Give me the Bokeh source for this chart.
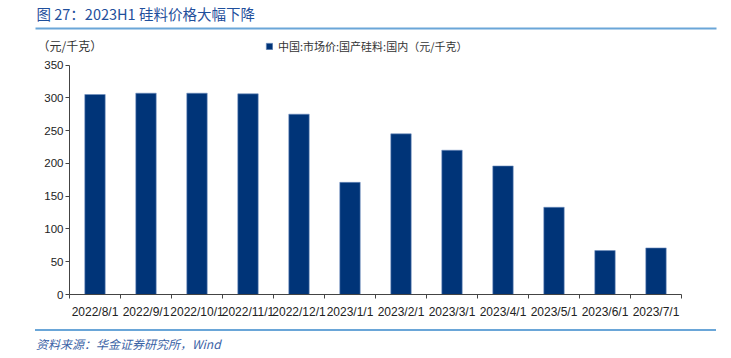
from bokeh.plotting import figure
from bokeh.models import (ColumnDataSource, FixedTicker, Label, BoxAnnotation,
                          Legend, LegendItem, Range1d, Div)
from bokeh.layouts import column
from bokeh.embed import file_html
from bokeh.resources import INLINE

categories = ["2022/8/1", "2022/9/1", "2022/10/1", "2022/11/1", "2022/12/1",
              "2023/1/1", "2023/2/1", "2023/3/1", "2023/4/1", "2023/5/1",
              "2023/6/1", "2023/7/1"]
values = [305, 307, 307, 306, 275, 171, 245, 220, 196, 133, 67, 71]
y_ticks = [0, 50, 100, 150, 200, 250, 300, 350]
series_name = "中国:市场价:国产硅料:国内（元/千克）"
title_text = "图 27：2023H1 硅料价格大幅下降"
unit_text = "（元/千克）"
source_text = "资料来源：华金证券研究所，Wind"

n = len(categories)
centers = [i + 0.5 for i in range(n)]
bounds = [float(i) for i in range(n + 1)]

# layout (page pixels)
FL, FW, FT, FBF = 30, 693, 0, 322         # frame left, width, top, bottom
AX0, AX1 = 69, 681                        # x position of category 0 and n
Y0, Y350 = 294, 64.5                      # y position of value 0 and 350
BORDER_B = 30
ppx = (AX1 - AX0) / n
ppy = (Y0 - Y350) / 350.0
x_start = -(AX0 - FL) / ppx
x_end = x_start + FW / ppx
y_start = -(FBF - Y0) / ppy
y_end = (Y0 - FT) / ppy

p = figure(frame_width=FW, frame_height=FBF - FT, output_backend="svg",
           toolbar_location=None,
           x_range=Range1d(x_start, x_end), y_range=Range1d(y_start, y_end),
           min_border_left=FL, min_border_right=0, min_border_top=FT,
           min_border_bottom=BORDER_B)
p.outline_line_color = None
p.grid.grid_line_color = None

src = ColumnDataSource(dict(x=centers, top=values, cat=categories))
r = p.vbar(x="x", top="top", width=0.4, source=src, fill_color="#003478",
           line_color="#6f8fbf", line_width=0.6)

xa = p.xaxis[0]
xa.fixed_location = 0
xa.bounds = (0, n)
xa.ticker = FixedTicker(ticks=centers, minor_ticks=bounds)
xa.major_label_overrides = {c: lab for c, lab in zip(centers, categories)}
xa.major_tick_line_color = None
xa.minor_tick_out = 4
xa.minor_tick_in = 0
xa.minor_tick_line_color = "#444444"
xa.axis_line_color = "#444444"
xa.axis_line_width = 1.2
xa.major_label_text_font = "Liberation Sans"
xa.major_label_text_font_size = "12px"
xa.major_label_text_color = "#222222"
xa.major_label_standoff = 4

ya = p.yaxis[0]
ya.fixed_location = 0
ya.bounds = (0, 350)
ya.ticker = FixedTicker(ticks=y_ticks)
ya.minor_tick_line_color = None
ya.major_tick_out = 4
ya.major_tick_in = 0
ya.major_tick_line_color = "#444444"
ya.axis_line_color = "#444444"
ya.major_label_text_font = "Liberation Sans"
ya.major_label_text_font_size = "11.5px"
ya.major_label_text_color = "#222222"
ya.major_label_standoff = 2


def sx(x_page):
    return x_page - FL


def sy(y_page):
    return FBF - y_page


legend = Legend(items=[LegendItem(label=series_name, renderers=[r])],
                location=(sx(265), sy(54)), orientation="horizontal",
                glyph_width=8, glyph_height=8, label_standoff=5,
                padding=0, margin=0, border_line_color=None,
                background_fill_alpha=0,
                label_text_font="Noto Sans CJK SC",
                label_text_font_size="11px", label_text_color="#333333")
p.add_layout(legend, "center")

p.add_layout(Label(x=sx(36), y=sy(13), x_units="screen", y_units="screen",
                   text=title_text, text_font="Noto Sans CJK SC",
                   text_font_size="14.5px", text_color="#1f4f9c",
                   text_baseline="middle"))
p.add_layout(Label(x=sx(37), y=sy(45), x_units="screen", y_units="screen",
                   text=unit_text, text_font="Noto Sans CJK SC",
                   text_font_size="12px", text_color="#333333",
                   text_baseline="middle"))
p.add_layout(BoxAnnotation(left=sx(35), right=sx(716), top=sy(27), bottom=sy(29),
                           left_units="screen", right_units="screen",
                           top_units="screen", bottom_units="screen",
                           fill_color="#6aa6d8", fill_alpha=1, line_color=None))

canvas_h = FBF + BORDER_B
src_div = Div(width=723, height=32, margin=(324 - canvas_h, 0, 0, 0), text=(
    '<div style="margin-left:35px;width:681px;padding-top:5px;">'
    '<div style="height:2px;background:#6aa6d8;"></div>'
    '<div style="margin-top:5px;padding-left:1px;line-height:16px;'
    'font-family:\'Noto Sans CJK SC\';font-style:italic;font-size:12px;'
    'color:#3b63a6;white-space:nowrap;">' + source_text + '</div></div>'))

layout = column(p, src_div, spacing=0)
open("out.html", "w").write(file_html(layout, INLINE))
